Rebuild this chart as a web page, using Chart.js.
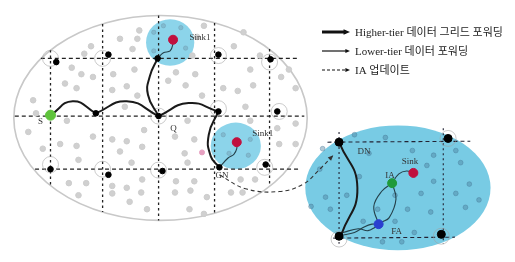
<!DOCTYPE html>
<html>
<head>
<meta charset="utf-8">
<script src="https://cdn.jsdelivr.net/npm/chart.js@4.4.0/dist/chart.umd.min.js"></script>
<style>
  html, body { margin: 0; padding: 0; background: #fff; }
</style>
</head>
<body>
<canvas id="grid-network-chart" width="515" height="262"></canvas>
<script>
// --- data (diagram units = picture pixels) ---
const gridXs = [43, 97, 155, 213, 270];
const gridXTop = [44, 16, 7, 15, 43];
const gridXBottom = [190, 218, 227, 219, 190];
const gridYs = [53, 115, 172];
const gridYLeft = [33, 6, 27];
const gridYRight = [300, 306, 300];

const gridNodes = [[49, 57], [103, 49], [154, 53], [217, 49], [271, 54], [90, 112], [155, 115], [217, 110], [278, 110],
  [43, 172], [103, 178], [159, 174], [218, 170], [266, 167]];
const zoneCorners = [[342, 143], [455, 139], [342, 244], [448, 242]];
const nodeRings = [[43, 53], [97, 53], [217, 50], [270, 57], [217, 107], [280, 110], [43, 167], [97, 172], [155, 173],
  [265, 170], [155, 115], [455, 139], [448, 244], [342, 247]];

const fieldDots = [[135, 23], [115, 32], [133, 32], [85, 40], [128, 43], [78, 48], [65, 63], [75, 70], [87, 73], [108, 70],
  [130, 65], [58, 80], [70, 85], [122, 83], [107, 87], [25, 98], [133, 93], [202, 18], [243, 25], [233, 40], [193, 70],
  [183, 82], [165, 77], [250, 65], [260, 50], [237, 88], [253, 82], [200, 93], [222, 85], [282, 73], [297, 85], [290, 65],
  [173, 68], [20, 132], [53, 145], [70, 147], [72, 162], [87, 137], [107, 140], [122, 142], [138, 148], [115, 153],
  [127, 165], [62, 187], [80, 187], [72, 200], [107, 190], [107, 198], [122, 192], [137, 197], [125, 207], [143, 215],
  [138, 183], [140, 130], [172, 137], [192, 140], [182, 155], [185, 165], [280, 145], [297, 145], [297, 123], [278, 128],
  [173, 185], [192, 185], [188, 195], [205, 202], [172, 197], [230, 197], [242, 197], [187, 215], [202, 220], [255, 183],
  [240, 183], [28, 112], [60, 120], [120, 105], [185, 120], [250, 120], [35, 150], [245, 105], [195, 30], [190, 50]];
const sinkDots = [[150, 25], [160, 18], [183, 42], [178, 20], [150, 45], [222, 135], [228, 155], [248, 157], [250, 140]];
const zoneDots = [[322, 172], [328, 202], [313, 212], [333, 215], [358, 135], [390, 138], [373, 155], [363, 180], [382, 215],
  [400, 200], [413, 215], [427, 198], [437, 218], [433, 168], [440, 157], [468, 165], [477, 188], [463, 198], [473, 213],
  [487, 205], [418, 152], [463, 152], [400, 228], [367, 228], [387, 250], [407, 250], [420, 240], [325, 150], [350, 200], [440, 185]];
const oddDots = [[200, 154]];

// roaming regions: centre x, centre y, radius x, radius y
const fieldArea = [157, 117, 152, 110];
const zoneArea = [403, 192, 96, 67];
const sinkAreas = [[167, 36, 25, 25], [235, 147, 26, 25]];

const sinks = [[170, 33], [236, 143], [419, 176]];
const sourceNode = [[43, 114]];
const iaNode = [[397, 187]];
const faNode = [[383, 231]];

// higher-tier grid forwarding (each piece is one arc)
const higherTier = [
  [[43, 114], [66, 99], [90, 112]],
  [[90, 112], [122, 99], [155, 115]],
  [[155, 115], [186, 101], [217, 110]],
  [[155, 115], [144, 92], [146, 72], [154, 53]],
  [[217, 110], [207, 135], [209, 158], [218, 170]],
  [[342, 143], [361, 192], [344, 243]]
];
// lower-tier forwarding
const lowerTier = [
  [[154, 53], [160, 47], [167, 45], [170, 37], [170, 33]],
  [[218, 170], [227, 160], [233, 156], [236, 150], [236, 143]],
  [[344, 243], [358, 240], [368, 234], [376, 231], [383, 231]],
  [[346, 240], [362, 236], [372, 238], [380, 234]],
  [[383, 231], [378, 212], [386, 196], [397, 187]],
  [[397, 187], [401, 204], [394, 224], [386, 229]],
  [[397, 187], [404, 177], [412, 174], [419, 176]]
];
// IA update
const iaUpdate = [[218, 178], [245, 193], [280, 196], [305, 188], [322, 172], [336, 157]];

const labelTexts = ['S', 'Q', 'GN', 'Sink1', 'Sink1', 'DN', 'Sink', 'IA', 'FA'];
const labelPoints = [[30, 121], [167, 128], [214, 179], [187, 31], [252, 134], [361, 153], [407, 164], [390, 179], [396, 239]];

const legendTexts = ['Higher-tier 데이터 그리드 포워딩', 'Lower-tier 데이터 포워딩', 'IA 업데이트'];

const toXY = p => ({ x: p[0], y: p[1] });

function lineSet(points, color, width, dash, tension, order, arrow) {
  return {
    type: 'line', data: points.map(toXY), showLine: true, borderColor: color, borderWidth: width,
    borderDash: dash, tension: tension, pointRadius: 0, fill: false, order: order, arrow: arrow
  };
}
function dotSet(points, radius, fill, stroke, order) {
  return {
    type: 'scatter', data: points.map(toXY), pointRadius: radius, pointBackgroundColor: fill,
    pointBorderColor: stroke, pointBorderWidth: 1, showLine: false, order: order
  };
}

const datasets = [];
gridXs.forEach((x, i) => datasets.push(lineSet([[x, gridXTop[i]], [x, gridXBottom[i]]], '#222', 1.3, [2.5, 3], 0, 8)));
gridYs.forEach((y, i) => datasets.push(lineSet([[gridYLeft[i], y], [gridYRight[i], y]], '#222', 1.3, [4, 3], 0, 8)));
datasets.push(lineSet([[330, 143], [478, 142]], '#223', 1.1, [4, 3], 0, 8));
datasets.push(lineSet([[336, 246], [462, 245]], '#223', 1.1, [4, 3], 0, 8));
datasets.push(lineSet([[342, 132], [342, 252]], '#223', 1.1, [2, 3], 0, 8));
datasets.push(lineSet([[450, 128], [450, 252]], '#223', 1.1, [2, 3], 0, 8));
datasets.push(dotSet(nodeRings, 8, 'rgba(0,0,0,0)', 'rgba(160,160,160,0.55)', 7));
datasets.push(dotSet(fieldDots, 2.8, '#d0d0d0', '#cdcdcd', 7));
datasets.push(dotSet(sinkDots, 2.2, 'rgba(110,150,170,0.4)', 'rgba(110,150,170,0.4)', 7));
datasets.push(dotSet(zoneDots, 2.4, 'rgba(70,120,150,0.4)', 'rgba(70,120,150,0.4)', 7));
datasets.push(dotSet(oddDots, 2.5, '#e6a0c0', '#e6a0c0', 7));
lowerTier.forEach(p => datasets.push(lineSet(p, '#24404a', 1.1, [], 0.4, 5)));
higherTier.forEach(p => datasets.push(lineSet(p, '#1a1a1a', 2, [], 0.5, 4)));
datasets.push(lineSet(iaUpdate, '#333', 1.1, [4, 3], 0.4, 4, true));
datasets.push(dotSet(gridNodes, 2.8, '#000', '#000', 2));
datasets.push(dotSet(zoneCorners, 4, '#000', '#000', 2));
datasets.push(dotSet(sinks, 4.5, '#c0103e', '#c0103e', 1));
datasets.push(dotSet(sourceNode, 5, '#5fc33c', '#5fc33c', 1));
datasets.push(dotSet(iaNode, 4.5, '#1f9a3a', '#1f9a3a', 1));
datasets.push(dotSet(faNode, 4.5, '#2a3fd0', '#2a3fd0', 1));

// plugin: the roaming areas under everything, labels, arrow heads and the key on top
const areaPlugin = {
  id: 'areas',
  beforeDatasetsDraw(chart) {
    const ctx = chart.ctx, sx = chart.scales.x, sy = chart.scales.y;
    const ell = (a) => {
      const cx = sx.getPixelForValue(a[0]), cy = sy.getPixelForValue(a[1]);
      const rx = Math.abs(sx.getPixelForValue(a[0] + a[2]) - cx), ry = Math.abs(sy.getPixelForValue(a[1] + a[3]) - cy);
      ctx.beginPath();
      ctx.ellipse(cx, cy, rx, ry, 0, 0, Math.PI * 2);
    };
    ctx.save();
    ell(fieldArea);
    ctx.strokeStyle = '#c8c8c8';
    ctx.lineWidth = 1.6;
    ctx.stroke();
    ell(zoneArea);
    ctx.fillStyle = '#78cbe4';
    ctx.fill();
    sinkAreas.forEach(a => {
      ell(a);
      ctx.fillStyle = 'rgba(120,205,230,0.85)';
      ctx.fill();
    });
    ctx.restore();
  },
  afterDatasetsDraw(chart) {
    const ctx = chart.ctx, sx = chart.scales.x, sy = chart.scales.y;
    const head = (x1, y1, x2, y2, size) => {
      const a = Math.atan2(y2 - y1, x2 - x1);
      ctx.beginPath();
      ctx.moveTo(x2, y2);
      ctx.lineTo(x2 - size * Math.cos(a - 0.4), y2 - size * Math.sin(a - 0.4));
      ctx.lineTo(x2 - size * Math.cos(a + 0.4), y2 - size * Math.sin(a + 0.4));
      ctx.closePath();
      ctx.fill();
    };
    ctx.save();
    chart.data.datasets.forEach((ds, i) => {
      if (!ds.arrow) return;
      const pts = chart.getDatasetMeta(i).data;
      const a = pts[pts.length - 2], b = pts[pts.length - 1];
      ctx.fillStyle = ds.borderColor;
      head(a.x, a.y, b.x, b.y, 6);
    });

    ctx.fillStyle = '#333';
    ctx.font = '9px "Liberation Serif", serif';
    ctx.textBaseline = 'middle';
    labelTexts.forEach((t, i) => {
      ctx.fillText(t, sx.getPixelForValue(labelPoints[i][0]), sy.getPixelForValue(labelPoints[i][1]));
    });

    // key
    const keyX = 322, keyLen = 28, keyY = [32, 51, 70], keyW = [3, 1.2, 1.2], keyDash = [[], [], [3, 2]];
    legendTexts.forEach((t, i) => {
      ctx.strokeStyle = '#111';
      ctx.fillStyle = '#111';
      ctx.lineWidth = keyW[i];
      ctx.setLineDash(keyDash[i]);
      ctx.beginPath();
      ctx.moveTo(keyX, keyY[i]);
      ctx.lineTo(keyX + keyLen - 4, keyY[i]);
      ctx.stroke();
      ctx.setLineDash([]);
      head(keyX, keyY[i], keyX + keyLen, keyY[i], i === 0 ? 7 : 5);
      ctx.fillStyle = '#222';
      ctx.font = '11px "Liberation Serif", "Noto Sans CJK KR", serif';
      ctx.fillText(t, keyX + keyLen + 5, keyY[i] + 1);
    });
    ctx.restore();
  }
};

const ctx = document.getElementById('grid-network-chart').getContext('2d');
const networkChart = new Chart(ctx, {
  type: 'scatter',
  data: { datasets: datasets },
  options: {
    responsive: false,
    animation: false,
    layout: { padding: 0 },
    plugins: { legend: { display: false }, tooltip: { enabled: false } },
    scales: {
      x: { type: 'linear', min: 0, max: 515, display: false },
      y: { type: 'linear', min: 0, max: 262, reverse: true, display: false }
    }
  },
  plugins: [areaPlugin]
});
</script>
</body>
</html>
